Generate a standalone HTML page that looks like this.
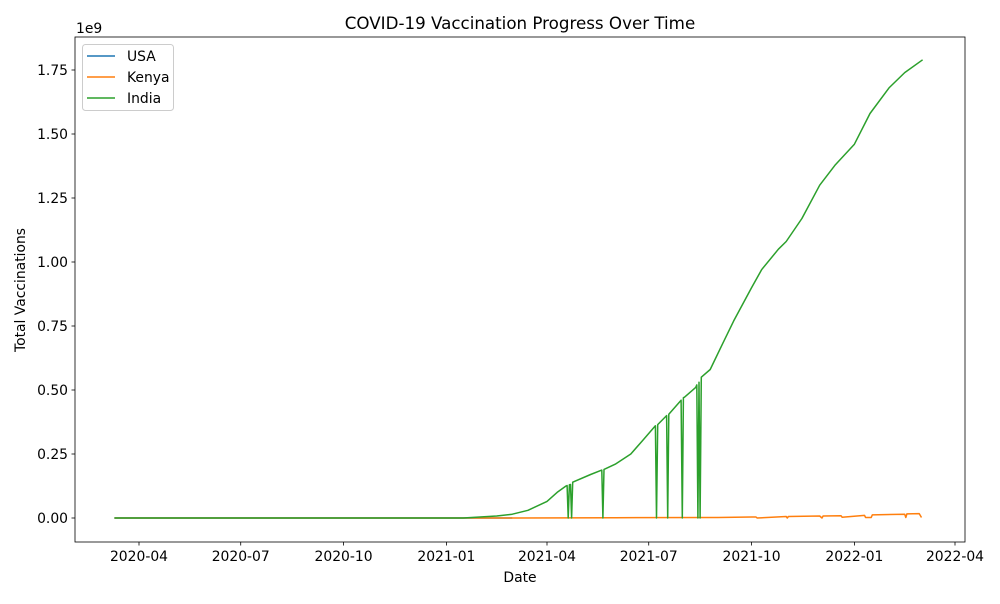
<!DOCTYPE html>
<html><head><meta charset="utf-8"><style>
body{margin:0;background:#fff;font-family:"DejaVu Sans","Liberation Sans",sans-serif}
svg text{font-family:"DejaVu Sans","Liberation Sans",sans-serif;fill:#000}
</style></head><body>
<svg id="chart" width="1000" height="600">
<rect x="0" y="0" width="1000" height="600" fill="#fff"/>
<g id="marks"></g><g id="axes"></g>
</svg>
<script>
const indiaDates=["2020-03-10","2021-01-16","2021-02-15","2021-03-01","2021-03-15","2021-04-01","2021-04-10","2021-04-18","2021-04-19","2021-04-20","2021-04-21","2021-04-22","2021-04-23","2021-04-24","2021-05-10","2021-05-20","2021-05-21","2021-05-22","2021-06-01","2021-06-15","2021-06-25","2021-07-07","2021-07-08","2021-07-09","2021-07-17","2021-07-18","2021-07-19","2021-07-30","2021-07-31","2021-08-01","2021-08-02","2021-08-12","2021-08-13","2021-08-14","2021-08-15","2021-08-16","2021-08-17","2021-08-25","2021-09-05","2021-09-15","2021-10-01","2021-10-10","2021-10-25","2021-11-01","2021-11-15","2021-12-01","2021-12-15","2022-01-01","2022-01-15","2022-02-01","2022-02-15","2022-03-03"];
const indiaValues=[0,0,0.008,0.015,0.03,0.065,0.10,0.125,0.127,0,0.13,0.131,0,0.14,0.17,0.187,0,0.19,0.21,0.25,0.30,0.36,0,0.365,0.40,0,0.405,0.46,0,0.47,0.472,0.51,0.52,0,0.53,0,0.55,0.58,0.68,0.77,0.90,0.97,1.05,1.08,1.17,1.30,1.38,1.46,1.58,1.68,1.74,1.79];
const kenyaDates=["2020-03-10","2021-03-05","2021-06-01","2021-09-01","2021-10-01","2021-10-05","2021-10-06","2021-11-01","2021-11-02","2021-11-03","2021-12-01","2021-12-03","2021-12-04","2021-12-20","2021-12-21","2022-01-10","2022-01-11","2022-01-16","2022-01-17","2022-02-15","2022-02-16","2022-02-17","2022-02-28","2022-03-02"];
const kenyaValues=[0,0,0.001,0.002,0.004,0.004,0,0.006,0,0.006,0.008,0,0.008,0.009,0.003,0.01,0.002,0.002,0.012,0.015,0.002,0.016,0.017,0.002];
const usaDates=["2020-03-10","2021-03-01"];
const usaValues=[0,0];
const yTicks=[0,0.25,0.5,0.75,1.0,1.25,1.5,1.75];
const yTickLabels=["0.00","0.25","0.50","0.75","1.00","1.25","1.50","1.75"];
const xTickDates=["2020-04-01","2020-07-01","2020-10-01","2021-01-01","2021-04-01","2021-07-01","2021-10-01","2022-01-01","2022-04-01"];
const xTickLabels=["2020-04","2020-07","2020-10","2021-01","2021-04","2021-07","2021-10","2022-01","2022-04"];

const L=75,R=965,T=37,B=542;
const d0=Date.parse("2020-04-01"),d1=Date.parse("2022-04-01");
function xs(d){return 139+(Date.parse(d)-d0)/(d1-d0)*(955-139);}
function ys(v){return 518-v/1.75*(518-70);}
const NS="http://www.w3.org/2000/svg";
const marks=document.getElementById('marks'),axes=document.getElementById('axes');
function mk(tag,attrs,parent,text){const e=document.createElementNS(NS,tag);for(const k in attrs)e.setAttribute(k,attrs[k]);if(text!==undefined)e.textContent=text;parent.appendChild(e);return e;}
function line(dates,vals,color,name){
  const pts=dates.map((d,i)=>xs(d).toFixed(1)+","+ys(vals[i]).toFixed(1)).join(" ");
  const p=mk('polyline',{points:pts,fill:'none',stroke:color,'stroke-width':1.5,'stroke-linejoin':'round'},marks);
  
  
}
line(usaDates,usaValues,'#1f77b4','usa-line');
line(kenyaDates,kenyaValues,'#ff7f0e','kenya-line');
line(indiaDates,indiaValues,'#2ca02c','india-line');

const frame=mk('rect',{x:L,y:T,width:R-L,height:B-T,fill:'none',stroke:'#000','stroke-width':0.8},axes);


yTicks.forEach((v,i)=>{const y=ys(v);
  mk('line',{x1:L-3.5,x2:L,y1:y,y2:y,stroke:'#000','stroke-width':0.8},axes);
  const t=mk('text',{x:L-7,y:y+5,'text-anchor':'end','font-size':13.9},axes,yTickLabels[i]);
  
  
});
xTickDates.forEach((d,i)=>{const x=xs(d);
  mk('line',{x1:x,x2:x,y1:B,y2:B+3.5,stroke:'#000','stroke-width':0.8},axes);
  const t=mk('text',{x:x,y:B+19,'text-anchor':'middle','font-size':13.9},axes,xTickLabels[i]);
  
  
});
</script>
<svg style="position:absolute;left:0;top:0" width="1000" height="600">
<text x="520" y="29" text-anchor="middle" font-size="16.7">COVID-19 Vaccination Progress Over Time</text>
<text x="520" y="582" text-anchor="middle" font-size="13.9">Date</text>
<text transform="translate(25,290) rotate(-90)" text-anchor="middle" font-size="13.9">Total Vaccinations</text>
<text x="76" y="33" font-size="13.9">1e9</text>
<g>
<rect x="82.5" y="44.5" width="91" height="66" rx="3" fill="#fff" fill-opacity="0.8" stroke="#ccc"/>
<line x1="87" x2="115" y1="56" y2="56" stroke="#1f77b4" stroke-width="1.5"/>
<text x="127" y="61" font-size="13.9">USA</text>
<line x1="87" x2="115" y1="77" y2="77" stroke="#ff7f0e" stroke-width="1.5"/>
<text x="127" y="82" font-size="13.9">Kenya</text>
<line x1="87" x2="115" y1="98" y2="98" stroke="#2ca02c" stroke-width="1.5"/>
<text x="127" y="103" font-size="13.9">India</text>
</g>
</svg>
</body></html>
